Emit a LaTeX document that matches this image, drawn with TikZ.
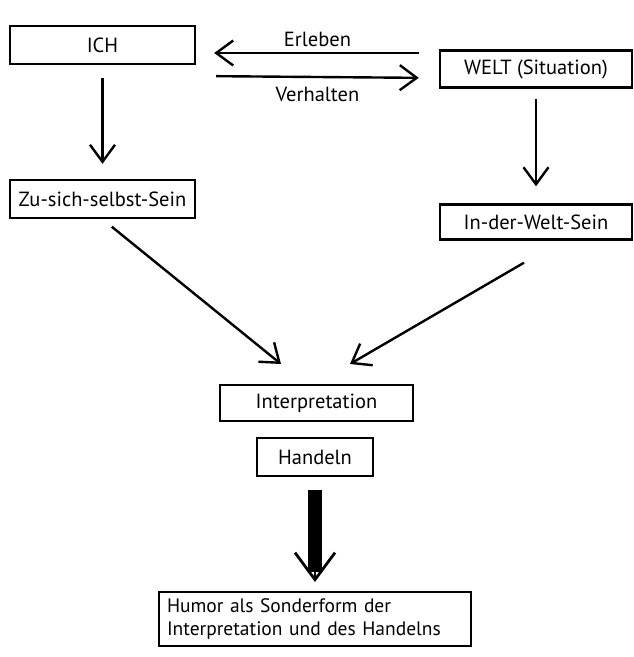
\documentclass[tikz,border=0pt]{standalone}
\usepackage{fontspec}
\setmainfont{PT Sans}
\usetikzlibrary{arrows.meta}
\begin{document}
\begin{tikzpicture}[x=1pt,y=-1pt,
  txt/.style={font=\fontsize{20.5}{25}\selectfont},
  box/.style={draw, line width=2.4pt, inner sep=0pt, txt},
  arr/.style={line width=2.4pt, -{Straight Barb[length=17pt,width=25pt]}}]
\useasboundingbox[fill=white] (0,0) rectangle (633,657);
% boxes
\node[box, minimum width=185pt, minimum height=38pt] (ich) at (102.5,45) {ICH};
\node[box, minimum width=192pt, minimum height=37pt] (welt) at (536,69) {WELT (Situation)};
\node[box, minimum width=185pt, minimum height=38pt] (zu) at (102.5,199) {Zu-sich-selbst-Sein};
\node[box, minimum width=192pt, minimum height=35pt] (inw) at (536,222) {In-der-Welt-Sein};
\node[box, minimum width=193pt, minimum height=36pt] (interp) at (316.5,403) {Interpretation};
\node[box, minimum width=116pt, minimum height=38pt] (hand) at (315,457) {Handeln};
\node[box, text width=296pt, inner xsep=8pt, inner ysep=6pt, align=left,
  font=\fontsize{19.5}{24}\selectfont] (humor) at (315,619)
  {\hyphenpenalty=10000 Humor als Sonderform der\\Interpretation und des Handelns};
% horizontal arrows
\draw[arr, shorten <=20pt, shorten >=18pt] ([yshift=16pt]welt.west) -- ([yshift=-8pt]ich.east)
  node[midway, above=2pt, txt] (erl) {Erleben};
\draw[arr, shorten <=20pt, shorten >=20pt] ([yshift=-31pt]ich.east) -- ([yshift=-9pt]welt.west)
  node[midway, below=6pt, txt] (verh) {Verhalten};
% vertical arrows
\draw[arr, shorten <=13pt, shorten >=15pt] (ich.south) -- (zu.north);
\draw[arr, shorten <=10pt, shorten >=17pt] (welt.south) -- (inw.north);
% diagonal arrows
\coordinate (t1) at (281,364);
\coordinate (t2) at (350,364);
\draw[arr, shorten <=12pt] (zu.south) -- (t1);
\draw[arr] ([xshift=-12pt,yshift=-22pt]inw.south) -- (t2);
% thick arrow
\coordinate (tip) at (315,582);
\draw[line width=14pt, shorten <=13pt] (hand.south) -- (315,572);
\draw[line width=2.8pt, -{Straight Barb[length=27pt,width=40pt]}, shorten <=13pt] (hand.south) -- (tip);
\end{tikzpicture}
\end{document}
